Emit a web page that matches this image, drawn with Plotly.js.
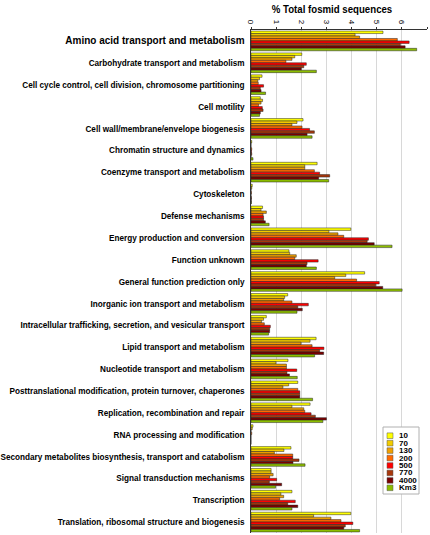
<!DOCTYPE html>
<html><head><meta charset="utf-8">
<script src="https://cdn.plot.ly/plotly-3.0.1.min.js"></script>
<style>html,body{margin:0;padding:0;background:#fff}#c{width:430px;height:535px}</style>
</head><body><div id="c"></div>
<script>
const categories = [
"Amino acid transport and metabolism",
"Carbohydrate transport and metabolism",
"Cell cycle control, cell division, chromosome partitioning",
"Cell motility",
"Cell wall/membrane/envelope biogenesis",
"Chromatin structure and dynamics",
"Coenzyme transport and metabolism",
"Cytoskeleton",
"Defense mechanisms",
"Energy production and conversion",
"Function unknown",
"General function prediction only",
"Inorganic ion transport and metabolism",
"Intracellular trafficking, secretion, and vesicular transport",
"Lipid transport and metabolism",
"Nucleotide transport and metabolism",
"Posttranslational modification, protein turnover, chaperones",
"Replication, recombination and repair",
"RNA processing and modification",
"Secondary metabolites biosynthesis, transport and catabolism",
"Signal transduction mechanisms",
"Transcription",
"Translation, ribosomal structure and biogenesis"
];
const seriesNames = ["10","70","130","200","500","770","4000","Km3"];
const seriesColors = ["#FFFF00","#F2CC00","#F0A000","#FF6A00","#FF0000","#A8380C","#7A0000","#8DBE00"];

// values per category (top to bottom), one array per series
const s10   = [5.25,2.02,0.44,0.37,2.07,0.03,2.63,0.05,0.46,3.97,1.51,4.52,1.46,0.61,2.59,1.47,1.86,2.35,0.08,1.59,0.80,1.63,3.97];
const s70   = [4.14,1.74,0.34,0.46,1.83,0.00,2.14,0.03,0.40,3.10,1.54,3.77,1.34,0.50,2.35,0.99,1.50,1.63,0.05,1.31,0.80,1.19,2.49];
const s130  = [4.32,1.63,0.27,0.40,1.63,0.00,2.14,0.00,0.61,3.46,1.80,3.33,1.30,0.42,1.99,1.41,1.27,2.10,0.00,0.93,0.88,1.30,3.18];
const s200  = [5.82,1.39,0.29,0.30,2.03,0.03,2.52,0.02,0.48,3.69,1.74,4.20,1.63,0.53,2.43,1.41,1.86,2.14,0.03,1.66,0.74,1.14,3.58];
const s500  = [6.29,2.20,0.50,0.45,2.33,0.02,2.73,0.00,0.50,4.67,2.67,5.10,2.28,0.77,2.90,1.82,1.94,2.39,0.00,1.66,1.02,1.76,4.05];
const s770  = [5.94,2.10,0.37,0.48,2.52,0.03,3.13,0.02,0.50,4.62,2.23,4.96,1.86,0.74,2.73,1.43,1.94,2.56,0.00,1.91,0.73,1.46,3.75];
const s4000 = [6.13,2.00,0.40,0.37,2.23,0.00,2.69,0.01,0.57,4.90,2.20,5.24,2.04,0.74,2.89,1.53,1.94,3.00,0.00,1.67,1.22,1.86,3.69];
const sKm3  = [6.59,2.60,0.58,0.34,2.43,0.08,3.09,0.02,0.72,5.61,2.60,6.01,1.83,0.70,2.53,1.84,2.45,2.86,0.00,2.15,0.98,1.63,4.32];
const xTicks = [0,1,2,3,4,5,6,7];

const allSeries = [s10,s70,s130,s200,s500,s770,s4000,sKm3];
const traces = allSeries.map((vals,i)=>({
  type:'bar', orientation:'h', name:seriesNames[i],
  x: vals, y: categories,
  marker:{color:seriesColors[i], line:{color:'#222', width:0.5}},
  showlegend:false, hoverinfo:'x+y'
}));

const ticktext = categories.map((c,i)=> i===0
  ? '<span style="font-size:11.5px;font-family:Liberation Sans, Arial, sans-serif">'+c+'</span>'
  : c);

const W=430, H=535, ML=251, MR=3, MT=30, MB=2;
const pw = W-ML-MR, ph = H-MT-MB;
const px = v=>(v-ML)/pw, py = v=>(H-MB-v)/ph;

const shapes = [], annotations = [];
// legend box (drawn as shapes + text, from the series arrays)
shapes.push({type:'rect', xref:'paper', yref:'paper', x0:px(383), x1:px(419), y0:py(494), y1:py(427),
  line:{color:'#b0b0b0', width:1}, fillcolor:'#ffffff', layer:'above'});
seriesNames.forEach((n,i)=>{
  const yc = 435.7 + i*7.45;
  shapes.push({type:'rect', xref:'paper', yref:'paper', x0:px(387), x1:px(393), y0:py(yc+2.8), y1:py(yc-2.8),
    line:{color:'#555', width:0.5}, fillcolor:seriesColors[i], layer:'above'});
  annotations.push({xref:'paper', yref:'paper', x:px(398), y:py(yc), xanchor:'left', yanchor:'middle',
    text:n, showarrow:false, borderpad:0, height:7, valign:'middle',
    font:{family:'Liberation Sans, Arial, sans-serif', size:8, weight:'bold', color:'#000'}});
});

const layout = {
  width:W, height:H,
  margin:{l:ML, r:MR, t:MT, b:MB},
  paper_bgcolor:'#fff', plot_bgcolor:'#fff',
  barmode:'group', bargap:0.1, bargroupgap:0,
  font:{family:'Liberation Sans, Arial, sans-serif', color:'#000'},
  xaxis:{
    side:'top', range:[0,7], tickvals:xTicks, ticktext:xTicks.map(String),
    tickangle:90, tickfont:{size:8, color:'#000'},
    showgrid:true, gridcolor:'#d8d8d8', gridwidth:1,
    showline:true, linecolor:'#333', linewidth:1,
    ticks:'outside', ticklen:2, tickcolor:'#333',
    zeroline:false,
    title:{text:'% Total fosmid sequences', font:{size:11.5, weight:'bold', color:'#000'}, standoff:3}
  },
  yaxis:{
    autorange:'reversed', type:'category',
    tickvals:categories, ticktext:ticktext,
    tickfont:{family:'Liberation Sans, Arial, sans-serif', size:9, weight:'bold', color:'#000'},
    showline:true, linecolor:'#333', linewidth:1,
    ticks:'', ticklabelstandoff:4, showgrid:false, zeroline:false
  },
  shapes:shapes, annotations:annotations
};
Plotly.newPlot('c', traces, layout, {displayModeBar:false, staticPlot:true}).then(gd=>{
  // condense category labels horizontally (the reference uses a narrow bold face)
  gd.querySelectorAll('.ytick text').forEach(t=>{
    const x = parseFloat(t.getAttribute('x')) || 0;
    const tr = t.getAttribute('transform') || '';
    const s = t.textContent.indexOf('Amino')===0 ? 0.87 : 0.91;
    t.setAttribute('transform', `translate(${x},0) scale(${s},1) translate(${-x},0) ${tr}`);
  });
  const tt = gd.querySelector('.g-xtitle text');
  if (tt) {
    const bb = tt.getBBox();
    const cx = bb.x + bb.width/2;
    const tr = tt.getAttribute('transform') || '';
    tt.setAttribute('transform', `translate(332,0) scale(0.84,1) translate(${-cx},0) ${tr}`);
  }
});
</script></body></html>
